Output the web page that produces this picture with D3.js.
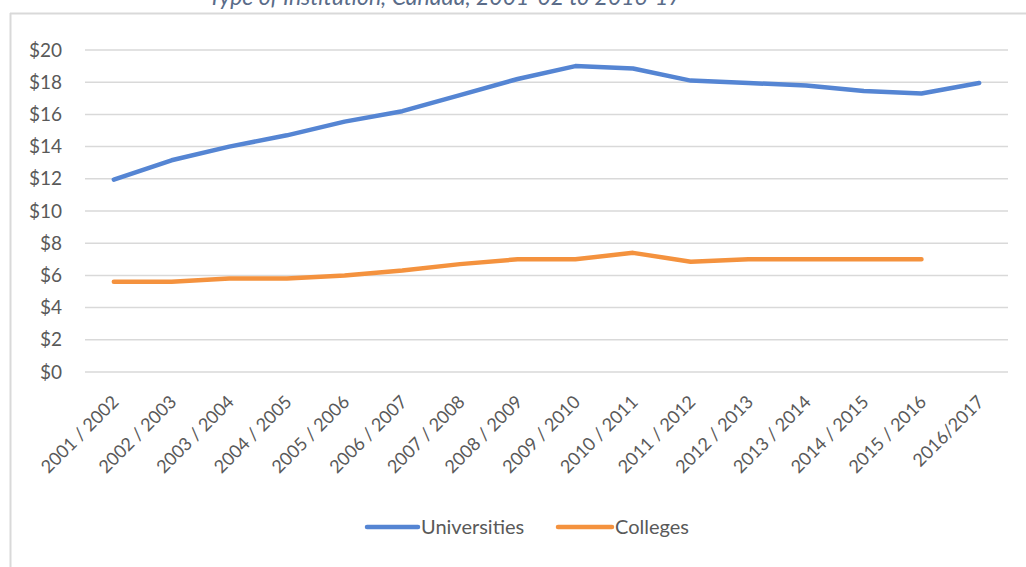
<!DOCTYPE html>
<html><head><meta charset="utf-8">
<script src="https://cdn.jsdelivr.net/npm/d3@7/dist/d3.min.js"></script>
<style>body{margin:0;background:#fff}svg{display:block}</style>
</head><body><svg id="c" width="1026" height="567"></svg>
<script>
const categories = ["2001 / 2002","2002 / 2003","2003 / 2004","2004 / 2005","2005 / 2006","2006 / 2007","2007 / 2008","2008 / 2009","2009 / 2010","2010 / 2011","2011 / 2012","2012 / 2013","2013 / 2014","2014 / 2015","2015 / 2016","2016/2017"];
const universities = [11.95,13.15,14.0,14.7,15.55,16.2,17.2,18.2,19.0,18.85,18.1,17.95,17.8,17.45,17.3,17.95];
const colleges = [5.6,5.6,5.8,5.8,6.0,6.3,6.7,7.0,7.0,7.4,6.85,7.0,7.0,7.0,7.0,null];
const yTicks = [0,2,4,6,8,10,12,14,16,18,20];
const titleText = "Type of Institution, Canada, 2001-02 to 2016-17";
const seriesNames = ["Universities","Colleges"];
const colors = ["#5585d3","#f4923e"];

const svg = d3.select("#c");
const font = "Lato, 'Open Sans', sans-serif";
// frame
svg.append("line").attr("x1",10).attr("x2",1026).attr("y1",13.5).attr("y2",13.5).attr("stroke","#d9d9d9").attr("stroke-width",2);
svg.append("line").attr("x1",10.5).attr("x2",10.5).attr("y1",13).attr("y2",567).attr("stroke","#d9d9d9").attr("stroke-width",2);
// title (cut off at top, as in the reference)
svg.append("text").attr("x",445).attr("y",5).attr("text-anchor","middle")
  .attr("font-family",font).attr("font-style","italic").attr("font-size",23)
  .attr("fill","#5a6c89").text(titleText);

const x = d3.scaleBand().domain(categories).range([85,1008]);
const y = d3.scaleLinear().domain([0,20]).range([372,50]);

const gGrid = svg.append("g");
gGrid.selectAll("line").data(yTicks).join("line")
  .attr("x1",85).attr("x2",1008).attr("y1",d=>y(d)).attr("y2",d=>y(d))
  .attr("stroke","#d9d9d9").attr("stroke-width",1.5);

const yAxis = svg.append("g").attr("transform","translate(85,0)")
  .call(d3.axisLeft(y).tickValues(yTicks).tickFormat(d=>"$"+d).tickSize(0).tickPadding(23));
yAxis.select(".domain").remove();
yAxis.selectAll("text").attr("font-family",font).attr("font-size",19).attr("fill","#595959");

const xAxis = svg.append("g").attr("transform","translate(0,372)")
  .call(d3.axisBottom(x).tickSize(0).tickPadding(0));
xAxis.select(".domain").remove();
xAxis.selectAll("text")
  .attr("font-family",font).attr("font-size",18).attr("fill","#595959")
  .attr("text-anchor","end").attr("dy",0).attr("y",0)
  .attr("transform",`translate(6,31) rotate(-45)`);

const cx = d => x(d) + x.bandwidth()/2;
const line = d3.line().defined(d=>d.v!=null).x(d=>cx(d.c)).y(d=>y(d.v));
[universities, colleges].forEach((s,i)=>{
  svg.append("path").datum(categories.map((c,j)=>({c,v:s[j]})))
    .attr("d",line).attr("fill","none").attr("stroke",colors[i])
    .attr("stroke-width",4.5).attr("stroke-linecap","round").attr("stroke-linejoin","round");
});

// legend
const leg = [{x0:367,x1:418,tx:421},{x0:558,x1:612,tx:615}];
seriesNames.forEach((n,i)=>{
  svg.append("line").attr("x1",leg[i].x0).attr("x2",leg[i].x1).attr("y1",527).attr("y2",527)
    .attr("stroke",colors[i]).attr("stroke-width",4.5).attr("stroke-linecap","round");
  svg.append("text").attr("x",leg[i].tx).attr("y",534).attr("font-family",font).attr("font-size",20)
    .attr("fill","#595959").text(n);
});
</script></body></html>
